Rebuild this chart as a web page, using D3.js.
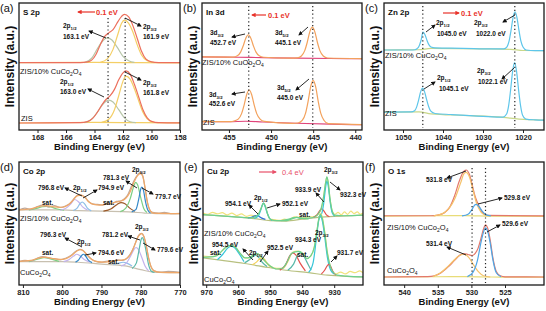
<!DOCTYPE html>
<html><head><meta charset="utf-8">
<script src="https://cdn.jsdelivr.net/npm/d3@7"></script>
<style>
body{margin:0;background:#fff}
svg{display:block;font-family:"Liberation Sans",Arial,sans-serif}
</style></head>
<body><svg id="fig" width="546" height="311"></svg>
<script>
// ─── (a) S 2p ─────────────────────────────────────────────
const S2P_TICKS = [168, 166, 164, 162, 160, 158];
const S2P_TOP_BASE = [[169.3,53],[164,53.2],[161,53],[158,52.8]];
const S2P_TOP_ENV = [[169.3,53],[165,53.1],[164.5,53.6],[164.2,55],[163.9,59.5],[163.6,67],[163.3,73.5],[163.0,76.5],[162.7,79],[162.4,84.5],[162.1,89.5],[161.9,91],[161.6,89],[161.3,82],[161.0,72],[160.7,62],[160.4,56],[160.0,53.6],[159.5,53.1],[158,53]];
const S2P_TOP_P12 = [[164.7,53.1],[164.2,56.5],[163.8,64],[163.4,70.5],[163.1,72.5],[162.8,71],[162.4,65],[162.0,58],[161.6,54.5],[161.2,53.2]];
const S2P_TOP_P32 = [[163.6,53.2],[163.1,56],[162.7,63.5],[162.4,74],[162.1,84],[161.9,86.5],[161.6,84],[161.3,77],[161.0,67],[160.7,59],[160.3,54.5],[159.8,53.1]];
const S2P_BOT_BASE = [[169.3,5.5],[164,6],[161,5.8],[158,5.6]];
const S2P_BOT_ENV = [[169.3,5.5],[165,5.8],[164.5,6.6],[164.1,9.5],[163.8,14],[163.5,19.5],[163.2,24],[162.9,27],[162.6,32],[162.3,39.5],[162.0,45],[161.8,46.5],[161.5,44],[161.2,36],[160.9,26],[160.6,16],[160.3,9.5],[160.0,6.8],[159.5,5.8],[158,5.6]];
const S2P_BOT_P12 = [[164.7,5.8],[164.2,8.5],[163.8,14],[163.4,20.5],[163.0,23.5],[162.7,22],[162.3,16],[161.9,9.5],[161.5,6.5],[161.1,5.8]];
const S2P_BOT_P32 = [[163.5,6],[163.0,8.5],[162.6,16],[162.3,27],[162.0,38.5],[161.8,42.5],[161.5,40],[161.2,32.5],[160.9,23],[160.6,14],[160.3,8.8],[159.9,6.3],[159.5,5.7]];

// ─── (b) In 3d ────────────────────────────────────────────
const IN3D_TICKS = [455, 450, 445, 440];
const IN3D_TOP_BASE = [[458.2,57.6],[454,57.3],[451,57],[447,56.6],[443,56.3],[439.2,56.1]];
const IN3D_TOP_ENV = [[458.2,57.6],[454.5,57.4],[454.0,58.4],[453.6,61.5],[453.3,66.4],[453.0,72.3],[452.7,75],[452.4,72.3],[452.1,66.4],[451.8,61.5],[451.4,58.4],[450.9,57.3],[447.5,56.6],[446.9,56.8],[446.4,58.3],[446.0,62.5],[445.7,69.1],[445.4,77.3],[445.1,81],[444.8,77.3],[444.5,69.1],[444.2,62.5],[443.8,58.3],[443.3,56.7],[439.2,56.2]];
const IN3D_BOT_BASE = [[458.2,6.6],[455,6.5],[453,6.9],[451,6.3],[447,5.3],[443,4.6],[439.2,4.2]];
const IN3D_BOT_ENV = [[458.2,6.6],[454.8,6.6],[454.4,7.1],[453.9,8.6],[453.5,12.9],[453.2,19.6],[452.9,27.8],[452.6,31.5],[452.3,27.8],[452.0,19.6],[451.7,12.9],[451.3,8.6],[450.8,6.8],[447.5,5.2],[446.8,5.5],[446.3,7.5],[445.9,13.3],[445.6,22.6],[445.3,33.9],[445.0,39],[444.7,33.9],[444.4,22.6],[444.1,13.3],[443.7,7.5],[443.2,5],[439.2,4.2]];

// ─── (c) Zn 2p ────────────────────────────────────────────
const ZN_TICKS = [1050, 1040, 1030, 1020];
const ZN_TOP_BASE = [[1054.75,63],[1046,63.2],[1043,64.2],[1030,63.9],[1023,63.5],[1020,62.6],[1014.75,62.5]];
const ZN_TOP_ENV = [[1054.75,63],[1048,63],[1047,63.2],[1046.5,64],[1046,66],[1045.5,70.5],[1045.0,77],[1044.5,75],[1044,70.5],[1043.5,67],[1043,65.3],[1042,64.6],[1035,64.3],[1028,63.8],[1024.8,63.9],[1024,65.5],[1023.5,69.7],[1023,78.3],[1022.5,88.3],[1022,93],[1021.5,88.3],[1021,78.3],[1020.5,69.7],[1020,65.3],[1019.2,63],[1017,62.5],[1014.75,62.5]];
const ZN_BOT_BASE = [[1054.75,14],[1046,14.3],[1043,12.7],[1035,11.5],[1025,10],[1021,8.6],[1014.75,7.8]];
const ZN_BOT_ENV = [[1054.75,14],[1048,14.2],[1047.1,15.1],[1046.6,18],[1046.1,23.5],[1045.6,30],[1045.1,33],[1044.6,30],[1044.1,24],[1043.6,18.5],[1043.1,15],[1042,13],[1038,12.2],[1030,10.8],[1025,10.2],[1024.1,12.6],[1023.6,19],[1023.1,31.5],[1022.6,46],[1022.1,53],[1021.6,46],[1021.1,31.5],[1020.6,19],[1020.1,11.6],[1019.3,8.6],[1017,8],[1014.75,7.8]];

// ─── (d) Co 2p ────────────────────────────────────────────
const CO_TICKS = [810, 800, 790, 780, 770];
const CO_TOP_BASE = [[811,61],[800,61],[796,60.5],[790,60],[783,59.5],[779,58.5],[776,58],[770,58]];
const CO_TOP_DATA = [[811,61],[809.5,62.5],[808,61.5],[806.5,63.5],[805,65],[803.5,63.5],[802,64.5],[800.5,63],[799,64.5],[797.8,67],[796.8,71],[795.8,73.5],[795,73],[794.2,71.5],[793.3,68],[792.3,66],[791,65.5],[789.8,65],[788.5,66.5],[787.3,66],[786.2,68],[785,68.5],[784,70.5],[783.2,74],[782.4,80],[781.6,85.5],[780.8,89.5],[780.1,91.5],[779.5,89],[778.9,79],[778.3,67],[777.7,61],[777,59],[775.5,58.5],[774,59],[772,58],[770,58.3]];
const CO_TOP_FIT = [[811,61],[808,62],[805.5,64],[804,64.5],[802,63.5],[800,63.2],[798.5,65],[797.2,69],[796.2,72.5],[795.2,73],[794.2,71],[793.2,67.5],[792,65.5],[790.5,65],[788.5,65.8],[786.5,67.3],[785,68.3],[783.8,70.5],[782.8,75],[781.8,83],[780.8,89],[780.1,90.5],[779.5,88.5],[778.9,79],[778.3,67.5],[777.6,60.5],[776.8,58.5],[770,58]];
const CO_TOP_SAT1 = [[808.5,61],[806.5,62.3],[805,63.6],[804,64],[803,63.5],[801.5,62],[799.5,60.8]];
const CO_TOP_P12A = [[800.5,60.8],[799,62.5],[797.8,66],[796.8,69.5],[795.8,67.5],[794.8,63.5],[793.5,60.8]];
const CO_TOP_P12B = [[797.2,60.6],[796.2,62.5],[795.5,66],[794.9,67.5],[794.3,66],[793.6,62.5],[792.6,60.3]];
const CO_TOP_SAT2 = [[789.5,60],[787.5,62],[786,65.5],[785,67],[784,66],[782.8,62.5],[781.5,60]];
const CO_TOP_P32A = [[785.2,59.7],[783.8,62.5],[782.7,70],[781.8,80],[781.3,83.5],[780.8,81.5],[780,71],[779.2,62],[778.4,59]];
const CO_TOP_P32B = [[782.3,59.5],[781.2,61.5],[780.5,70],[780,78],[779.7,79.5],[779.3,77],[778.8,68],[778.2,61],[777.5,58.6]];
const CO_BOT_BASE = [[811,19],[800,19],[796,18.5],[790,17],[784,15.5],[780,12.5],[777,10.5],[770,10]];
const CO_BOT_DATA = [[811,19],[809.5,20],[808,19.5],[806.5,21.5],[805,23],[803.5,22],[802,21.5],[800.5,20.5],[799,22],[797.8,24],[796.5,27.5],[795.5,29],[794.7,28],[793.8,25],[792.8,21.5],[791.5,19.2],[790,18.5],[788.5,19.5],[787.2,19],[786,20.5],[784.8,20],[783.8,21],[782.8,24.5],[782,29],[781.2,35.5],[780.5,40.5],[779.8,42],[779.2,39.5],[778.6,32],[778,22],[777.4,15],[776.6,11.5],[775,10.5],[773,11],[770,10.3]];
const CO_BOT_FIT = [[811,19.2],[808,20],[805.5,22.3],[804.3,22.6],[802.5,21.5],[800.5,20.8],[799,21.5],[797.6,24],[796.3,27.5],[795.3,28.8],[794.5,27.5],[793.5,24],[792.5,21],[791,19],[789.5,18.6],[787.5,19.3],[786,20],[784.8,20.2],[783.6,21.5],[782.6,25],[781.6,32],[780.6,39.5],[779.8,41.8],[779.2,39.5],[778.6,32],[778,22],[777.4,15],[776.6,11.5],[775,10.3],[770,10]];
const CO_BOT_SAT1 = [[808.5,19],[806.3,21],[804.6,22.3],[803,21.3],[800.8,19.2]];
const CO_BOT_P12A = [[799.6,19],[798.2,20.8],[797.1,23.5],[796.3,25],[795.4,23.5],[794.4,20.8],[793,18.6]];
const CO_BOT_P12B = [[796.6,18.6],[795.8,20.5],[795.1,23.8],[794.6,25],[794.1,23.8],[793.4,20.5],[792.4,18.2]];
const CO_BOT_SAT2 = [[787,16.5],[785.6,17.8],[784.5,18.5],[783.4,17.6],[782.2,15.5]];
const CO_BOT_P32A = [[785,15.5],[783.6,18],[782.6,23.5],[781.7,29],[781.2,30.5],[780.6,29],[779.8,23],[778.9,15.5],[778,11.5]];
const CO_BOT_P32B = [[782.2,13.5],[781.1,18],[780.4,29],[779.9,37],[779.6,38.5],[779.2,36],[778.6,27],[778,16.5],[777.3,11.2],[776.5,10.3]];

// ─── (e) Cu 2p ────────────────────────────────────────────
const CU_TICKS = [970, 960, 950, 940, 930];
const CU_TOP_BASE = [[971,57],[960,55.2],[955,54],[950,52.3],[945,52],[940,53.5],[935,55],[928,56],[921,56.8]];
const CU_TOP_DATA = [[971,58.5],[969.5,57.5],[968,59],[966.5,57.8],[965,58.8],[963.5,57],[962,58.5],[960.5,56.5],[959,57.8],[957.5,55.8],[956,56.8],[954.5,56],[953.5,58.5],[952.8,63],[952.1,66.5],[951.5,64],[950.8,57.5],[950,53.5],[948.5,53],[947,52.5],[945.5,53.5],[944,53],[942.5,55.5],[941,55],[939.5,54.5],[938,55.5],[936.5,55.5],[935,57.5],[934,62],[933.3,72],[932.7,83],[932.3,87.5],[931.9,84],[931.3,70],[930.6,60],[929.8,57.5],[928.8,59],[927.8,57],[926.8,59.5],[925.8,57.5],[924.8,60],[923.8,58],[922.8,59.5],[921.8,57.5],[921,58.5]];
const CU_TOP_ENV = [[971,57.2],[962,55.6],[956,54.6],[954.6,55.6],[953.6,58],[952.8,62.5],[952.1,66.5],[951.5,64],[950.8,57.5],[950,53.5],[948,52.3],[945,52.4],[943,54],[941.8,55],[940.5,54.2],[938,54.3],[936,55.5],[934.8,58.5],[934,63],[933.3,72],[932.7,83],[932.3,88],[931.9,84],[931.3,70],[930.6,60],[929.8,56.8],[927,56.3],[921,56.8]];
const CU_TOP_P32 = [[935,55],[934,57.5],[933.3,66],[932.7,79],[932.3,84.5],[931.9,81],[931.3,68],[930.6,58.5],[929.8,56]];
const CU_TOP_P32R = [[936.5,55],[935.3,57.2],[934.5,60.5],[933.9,62],[933.3,60.5],[932.5,57.3],[931.5,55.5]];
const CU_TOP_P12 = [[955,54.2],[953.8,55.8],[953,60.5],[952.4,65.5],[952.1,66.5],[951.7,64.5],[951,59],[950.2,54.3],[949.4,52.5]];
const CU_TOP_P12B = [[957,54.6],[955.6,55.3],[954.5,56.4],[953.8,56.2],[952.8,54.6],[951.5,53.3]];
const CU_TOP_SAT = [[946.5,52.3],[944.5,53.3],[942.5,54.8],[941.5,55],[940,54.2],[938,53.8]];
const CU_BOT_BASE = [[971,22],[965,20],[958,17.5],[950,14],[945,12],[938,10],[932,8],[926,7],[921,6.5]];
const CU_BOT_DATA = [[971,23.5],[968,23],[966,25.5],[964,30],[962.5,32],[961,31],[959.5,26],[958,22],[956.5,22],[955,25],[954,25.5],[953,23],[951.5,19],[950,15.5],[948,13.5],[946,13.5],[944.5,19],[943,26.5],[941.5,27.5],[940,26],[938.5,21.5],[937.5,23],[936.3,30],[935.5,42],[934.8,54],[934.3,58],[933.7,55],[933,44],[932.2,28],[931.5,18],[930.5,11],[929.5,9],[928,10.5],[926.5,9],[925,11],[923.5,10],[922,11.5],[921,10]];
const CU_BOT_ENV = [[971,22.5],[967,23.5],[965.5,26.5],[964,30.5],[962.3,32.3],[960.8,30.5],[959.3,25.5],[957.8,22],[956.4,22.5],[955,25],[954,25.6],[952.9,23.2],[951.5,19],[950,15.5],[948,13],[946.2,13.6],[944.8,18.5],[943.4,25.5],[942.2,27],[941,27.3],[939.8,25.5],[938.6,21.5],[937.4,23.5],[936.2,31],[935.4,44],[934.8,54],[934.3,57.5],[933.7,54],[933,43],[932.2,27],[931.5,18],[930.5,11],[929,8],[926,7.2],[921,6.6]];
const CU_BOT_SAT962 = [[966.5,20.5],[964.8,25],[963.3,30],[962.2,31.5],[961,30],[959.6,25],[958.2,19]];
const CU_BOT_P954 = [[958,18],[956.5,20.5],[955.2,23.5],[954.5,24.2],[953.8,23],[952.5,18.5],[951,15]];
const CU_BOT_P952 = [[955.6,16.5],[954.2,18.8],[953.1,21.8],[952.5,22.3],[951.8,21],[950.7,16.5],[949.5,14]];
const CU_BOT_SAT943 = [[947,12],[945.2,16.5],[943.8,24],[943,26],[942,24.5],[940.7,18],[939,11.5]];
const CU_BOT_SAT940 = [[944.5,12],[942.7,17],[941.4,24.5],[940.6,26.3],[939.8,25],[938.6,19],[937.2,12]];
const CU_BOT_P934 = [[938,10.2],[936.6,18],[935.6,37],[934.9,51.5],[934.3,56],[933.7,52],[933,40],[932.1,22],[931.1,12],[930,9]];
const CU_BOT_P931 = [[934,9],[933,12],[932.2,15.5],[931.7,16.8],[931.2,15.5],[930.4,11],[929.5,8]];

// ─── (f) O 1s (positions as drawn in the picture) ─────────
const O_TICKS = [540, 535, 530, 525];
const O_TOP_BASE = [[543,56],[535,56.3],[531,56.4],[527,56],[519,55.8]];
const O_TOP_DATA = [[543,56.3],[536,56.3],[535,56.8],[534,58.8],[533.2,63.5],[532.5,72.5],[531.8,84.5],[531.2,92],[530.8,93.5],[530.3,90],[529.9,82],[529.5,73],[529.1,67],[528.7,62],[528.2,58],[527.6,56.6],[519,56.2]];
const O_TOP_P1 = [[535.6,56.2],[534.3,58],[533.3,62.5],[532.4,71],[531.6,83],[531.1,90.5],[530.8,91.5],[530.3,88],[529.8,78],[529.2,66],[528.6,59.5],[527.9,56.8],[527.2,56.2]];
const O_TOP_P2 = [[531.4,56.2],[530.5,57.5],[529.9,61.5],[529.5,65],[529.3,65.5],[528.9,64],[528.4,60],[527.8,57],[527.1,56.2]];
const O_BOT_BASE = [[543,6.5],[535,6.7],[531,6.8],[527,6.5],[519,6.4]];
const O_BOT_DATA = [[543,6.5],[536.5,6.8],[535.5,7.5],[534.5,10],[533.5,14.5],[532.5,20],[531.7,24.3],[531.1,25.5],[530.5,24.8],[529.9,24],[529.4,26],[529,30],[528.6,37.5],[528.2,45.5],[527.9,49],[527.6,46.5],[527.2,36.5],[526.8,22],[526.3,11],[525.7,7.5],[525,6.6],[519,6.5]];
const O_BOT_P1 = [[535.7,6.8],[534.7,9.5],[533.7,14],[532.7,19.5],[531.9,23.5],[531.1,25],[530.4,22.5],[529.7,16.5],[529,11],[528.2,7.5],[527.2,6.5]];
const O_BOT_P2 = [[530.6,6.8],[529.8,10],[529.1,20],[528.6,34],[528.2,43],[527.9,46.5],[527.6,44],[527.2,34],[526.8,20.5],[526.3,10],[525.6,6.8]];

// ─── panel layout ─────────────────────────────────────────
const C = {
  red: '#e8322a', salmon: '#ec6f5c', yellow: '#f4cf66', sage: '#b7c6a8',
  orange: '#f3a25d', pink: '#e0457a', cyan: '#5ec6ea', lime: '#c9d88a',
  tan: '#c0a898', fit: '#f0a868', green: '#7dcf83', blue: '#3589c8', lav: '#c3b3ec',
  brown: '#9c5a2a', sky: '#8fbfe8', gray: '#c8c0b0',
  cuYel: '#f1e27a', cuEnv: '#6ed08e', cuCyan: '#36c5d9', cuRed: '#e4504d', cuBlue: '#2e6fd2',
  olive: '#b8c080', teal: '#58b8a8', gold: '#f5d15a',
  oOr: '#f5c26a', oRed: '#e3786a', oBlue: '#4ea6e6', oBase: '#e8dc78'
};

const panels = [
  { letter: '(a)', title: 'S 2p', box: {x: 19, y: 3, w: 161, h: 127}, domain: [169.3, 158], ticks: S2P_TICKS,
    curves: [[S2P_TOP_BASE, C.yellow], [S2P_TOP_P12, C.sage], [S2P_TOP_P32, C.yellow], [S2P_TOP_ENV, C.salmon],
             [S2P_BOT_BASE, C.yellow], [S2P_BOT_P12, C.sage], [S2P_BOT_P32, C.yellow], [S2P_BOT_ENV, C.salmon]],
    dotted: [163.05, 161.85], dotY: [18, 128],
    samples: [['ZIS/10% CuCo_{2}O_{4}', 20, 71], ['ZIS', 21, 118]],
    notes: [['2p_{1/2}', 63, 26], ['163.1 eV', 63, 37], ['2p_{3/2}', 143, 27], ['161.9 eV', 143, 37],
            ['2p_{1/2}', 60, 82], ['163.0 eV', 60, 92], ['2p_{3/2}', 143, 83], ['161.8 eV', 143, 93]],
    arrows: [[106, 38, 89, 31], [125, 18, 141, 26], [104, 97, 88, 89], [125, 72, 141, 80]],
    shift: {x1: 95, x2: 78, y: 12, tx: 96, text: '0.1 eV', color: C.red, bold: true} },
  { letter: '(b)', title: 'In 3d', box: {x: 202, y: 3, w: 160, h: 127}, domain: [458.2, 439.2], ticks: IN3D_TICKS,
    curves: [[IN3D_TOP_BASE, C.pink], [IN3D_TOP_ENV, C.orange], [IN3D_BOT_BASE, C.pink], [IN3D_BOT_ENV, C.orange]],
    dotted: [452.65, 445.05], dotY: [6, 128],
    samples: [['ZIS/10% CuOo_{2}O_{4}', 202, 62], ['ZIS', 203, 122]],
    notes: [['3d_{3/2}', 210, 33], ['452.7 eV', 210, 43], ['3d_{5/2}', 275, 33], ['445.1 eV', 275, 43],
            ['3d_{3/2}', 209, 95], ['452.6 eV', 209, 104], ['3d_{5/2}', 277, 88], ['445.0 eV', 277, 98]],
    arrows: [[245, 34, 232, 37], [308, 27, 299, 35], [245, 92, 232, 94], [309, 79, 296, 90]],
    shift: {x1: 266, x2: 252, y: 15, tx: 268, text: '0.1 eV', color: C.red, bold: true} },
  { letter: '(c)', title: 'Zn 2p', box: {x: 384, y: 3, w: 160, h: 127}, domain: [1054.75, 1014.75], ticks: ZN_TICKS,
    curves: [[ZN_TOP_BASE, C.lime], [ZN_TOP_ENV, C.cyan], [ZN_BOT_BASE, C.lime], [ZN_BOT_ENV, C.cyan]],
    dotted: [1045.05, 1022.05], dotY: [6, 128],
    samples: [['ZIS/10% CuCo_{2}O_{4}', 385, 55], ['ZIS', 385, 113]],
    notes: [['2p_{1/2}', 436, 23], ['1045.0 eV', 437, 34], ['2p_{3/2}', 474, 23], ['1022.0 eV', 476, 34],
            ['2p_{1/2}', 437, 78], ['1045.1 eV', 439, 89], ['2p_{3/2}', 477, 71], ['1022.1 eV', 478, 82]],
    arrows: [[426, 32, 435, 25], [515, 15, 503, 22], [424, 89, 435, 82], [514, 68, 502, 79]],
    shift: {x1: 443, x2: 459, y: 13, tx: 461, text: '0.1 eV', color: C.red, bold: true} },
  { letter: '(d)', title: 'Co 2p', box: {x: 19, y: 162, w: 161, h: 123}, domain: [811, 770], ticks: CO_TICKS,
    curves: [[CO_TOP_BASE, C.gray], [CO_TOP_SAT1, C.green], [CO_TOP_P12A, C.lav], [CO_TOP_P12B, C.sky], [CO_TOP_SAT2, C.brown],
             [CO_TOP_P32A, C.green], [CO_TOP_P32B, C.blue], [CO_TOP_DATA, C.tan], [CO_TOP_FIT, C.fit],
             [CO_BOT_BASE, C.gray], [CO_BOT_SAT1, C.green], [CO_BOT_P12A, C.lav], [CO_BOT_P12B, C.blue], [CO_BOT_SAT2, C.sky],
             [CO_BOT_P32A, C.lav], [CO_BOT_P32B, C.teal], [CO_BOT_DATA, C.tan], [CO_BOT_FIT, C.fit]],
    dotted: [], dotY: [0, 0],
    samples: [['ZIS/10% CuCo_{2}O_{4}', 20, 218], ['CuCo_{2}O_{4}', 20, 272]],
    notes: [['796.8 eV', 38, 188], ['2p_{1/2}', 73, 188], ['794.9 eV', 98, 188], ['2p_{3/2}', 132, 170],
            ['781.3 eV', 103, 178], ['779.7 eV', 155, 197], ['sat.', 42, 203], ['sat.', 103, 203],
            ['796.3 eV', 40, 235], ['2p_{1/2}', 77, 242], ['794.6 eV', 98, 253], ['781.2 eV', 102, 235],
            ['2p_{3/2}', 135, 227], ['779.6 eV', 157, 250], ['sat.', 42, 253], ['sat.', 108, 262]],
    arrows: [[82, 196, 65, 188], [83, 198, 97, 190], [137, 188, 126, 181], [142, 188, 153, 194],
             [82, 247, 65, 238], [85, 255, 96, 253], [140, 240, 128, 236], [143, 243, 155, 250]],
    shift: null },
  { letter: '(e)', title: 'Cu 2p', box: {x: 203, y: 162, w: 160, h: 123}, domain: [971, 921], ticks: CU_TICKS,
    curves: [[CU_TOP_BASE, C.olive], [CU_TOP_DATA, C.cuYel], [CU_TOP_SAT, C.cuEnv], [CU_TOP_P12B, C.cuBlue], [CU_TOP_P12, C.cuCyan],
             [CU_TOP_P32R, C.cuRed], [CU_TOP_P32, C.cuCyan], [CU_TOP_ENV, C.cuEnv],
             [CU_BOT_BASE, C.olive], [CU_BOT_DATA, C.cuYel], [CU_BOT_SAT962, C.cuCyan], [CU_BOT_P954, C.teal], [CU_BOT_P952, C.gold],
             [CU_BOT_SAT943, C.cuRed], [CU_BOT_SAT940, C.teal], [CU_BOT_P934, C.cuCyan], [CU_BOT_P931, C.cuRed], [CU_BOT_ENV, C.cuEnv]],
    dotted: [], dotY: [0, 0],
    samples: [['ZIS/10% CuCo_{2}O_{4}', 204, 233], ['CuCo_{2}O_{4}', 204, 279]],
    notes: [['2p_{1/2}', 254, 198], ['954.1 eV', 225, 204], ['952.1 eV', 282, 204], ['2p_{3/2}', 324, 170],
            ['933.9 eV', 295, 190], ['932.3 eV', 340, 195], ['sat.', 299, 215],
            ['954.5 eV', 212, 245], ['sat.', 210, 253], ['2p_{1/2}', 249, 253], ['952.5 eV', 267, 248],
            ['sat.', 297, 255], ['934.3 eV', 295, 240], ['2p_{3/2}', 315, 233], ['931.7 eV', 337, 253]],
    arrows: [[258, 214, 249, 205], [267, 208, 280, 204], [324, 202, 316, 193], [330, 182, 340, 190],
             [253, 260, 243, 249], [260, 262, 268, 251], [331, 262, 337, 256]],
    shift: {x1: 259, x2: 276, y: 172, tx: 282, text: '0.4 eV', color: '#e8506a', bold: false} },
  { letter: '(f)', title: 'O 1s', box: {x: 384, y: 162, w: 160, h: 123}, domain: [543, 519.2], ticks: O_TICKS,
    curves: [[O_TOP_BASE, C.oBase], [O_TOP_DATA, C.oRed], [O_TOP_P1, C.oOr], [O_TOP_P2, C.oBlue],
             [O_BOT_BASE, C.oBase], [O_BOT_DATA, C.oRed], [O_BOT_P1, C.oOr], [O_BOT_P2, C.oBlue]],
    dotted: [529.9, 527.9], dotY: [168, 283],
    samples: [['ZIS/10% CuCo_{2}O_{4}', 387, 227], ['CuCo_{2}O_{4}', 387, 270]],
    notes: [['531.8 eV', 426, 180], ['529.8 eV', 504, 198], ['529.6 eV', 502, 224], ['531.4 eV', 426, 244]],
    arrows: [[466, 171, 447, 178], [478, 204, 502, 198], [487, 232, 500, 225], [466, 255, 447, 247]],
    shift: null }
];

const svg = d3.select('#fig');
svg.append('rect').attr('width', 546).attr('height', 311).attr('fill', '#fff');

const defs = svg.append('defs');
function marker(id, color) {
  defs.append('marker').attr('id', id).attr('viewBox', '0 0 10 10')
    .attr('refX', 8).attr('refY', 5).attr('markerWidth', 4.5).attr('markerHeight', 4.5)
    .attr('markerUnits', 'userSpaceOnUse').attr('orient', 'auto')
    .append('path').attr('d', 'M0,0L10,5L0,10z').attr('fill', color);
}
marker('ahk', '#111');
marker('ahr', C.red);
marker('ahp', '#e8506a');

// text with _{sub} markup; y is the visual middle of the line
function rich(g, str, x, y, size, weight, color) {
  const t = g.append('text').attr('x', x).attr('y', y + size * 0.35)
    .attr('font-size', size).attr('font-weight', weight).attr('fill', color || '#111');
  let sub = false;
  str.split(/(_\{[^}]*\})/).filter(s => s).forEach(part => {
    if (part.startsWith('_{')) {
      t.append('tspan').attr('font-size', size * 0.66).attr('dy', size * 0.3).text(part.slice(2, -1));
      sub = true;
    } else {
      const s = t.append('tspan').text(part);
      if (sub) { s.attr('dy', -size * 0.3); sub = false; }
    }
  });
  return t;
}

panels.forEach((p, i) => {
  const {x: bx, y: by, w, h} = p.box;
  const g = svg.append('g').attr('transform', `translate(${bx},${by})`);
  const xScale = d3.scaleLinear().domain(p.domain).range([0, w]);
  const yScale = d3.scaleLinear().domain([0, 100]).range([h, 0]);

  const clipId = 'clip' + i;
  defs.append('clipPath').attr('id', clipId).append('rect').attr('width', w).attr('height', h);

  const line = d3.line().x(d => xScale(d[0])).y(d => yScale(d[1])).curve(d3.curveMonotoneX);
  const cg = g.append('g').attr('clip-path', `url(#${clipId})`);
  p.curves.forEach(([data, color]) => {
    cg.append('path').datum(data).attr('d', line)
      .attr('fill', 'none').attr('stroke', color).attr('stroke-width', 1.2).attr('stroke-linejoin', 'round');
  });

  // dotted guide lines
  p.dotted.forEach(be => {
    g.append('line').attr('x1', xScale(be)).attr('x2', xScale(be))
      .attr('y1', p.dotY[0] - by).attr('y2', p.dotY[1] - by)
      .attr('stroke', '#222').attr('stroke-width', 1.2).attr('stroke-dasharray', '1.2,2.6');
  });

  // x axis
  g.append('g').attr('transform', `translate(0,${h})`)
    .call(d3.axisBottom(xScale).tickValues(p.ticks).tickSize(3).tickSizeOuter(0).tickPadding(1.5).tickFormat(d3.format('d')))
    .call(a => a.select('.domain').remove())
    .call(a => a.selectAll('line').attr('stroke', '#222').attr('stroke-width', 1))
    .call(a => a.selectAll('text').attr('font-size', 7.5).attr('font-weight', 'bold').attr('fill', '#222')
      .attr('font-family', '"Liberation Sans", Arial, sans-serif'));

  // frame
  g.append('rect').attr('width', w).attr('height', h)
    .attr('fill', 'none').attr('stroke', '#1a1a1a').attr('stroke-width', 1.3);

  // axis titles
  g.append('text').attr('x', w / 2).attr('y', h + 20).attr('text-anchor', 'middle')
    .attr('font-size', 9.5).attr('font-weight', 'bold').attr('fill', '#111').text('Binding Energy (eV)');
  g.append('text').attr('transform', `translate(-9.5,${h / 2}) rotate(-90)`)
    .attr('text-anchor', 'middle').attr('dominant-baseline', 'central')
    .attr('font-size', 12).attr('font-weight', 'bold').attr('fill', '#111').text('Intensity (a.u.)');

  // panel letter & title
  svg.append('text').attr('x', bx - 19).attr('y', by + 9).attr('font-size', 11).attr('fill', '#111').text(p.letter);
  g.append('text').attr('x', 4).attr('y', 12).attr('font-size', 8).attr('font-weight', 'bold').attr('fill', '#111').text(p.title);

  // sample names, peak notes, arrows (page coordinates)
  const ag = svg.append('g');
  p.samples.forEach(([t, x, y]) => rich(ag, t, x, y, 7.5, 'normal', '#111'));
  p.notes.forEach(([t, x, y]) => rich(ag, t, x, y, 6.5, 'bold', '#111'));
  p.arrows.forEach(([x1, y1, x2, y2]) => {
    ag.append('line').attr('x1', x1).attr('y1', y1).attr('x2', x2).attr('y2', y2)
      .attr('stroke', '#111').attr('stroke-width', 0.9).attr('marker-end', 'url(#ahk)');
  });
  if (p.shift) {
    const s = p.shift;
    const mk = s.color === C.red ? 'ahr' : 'ahp';
    ag.append('line').attr('x1', s.x1).attr('y1', s.y).attr('x2', s.x2).attr('y2', s.y)
      .attr('stroke', s.color).attr('stroke-width', 1.2).attr('marker-end', `url(#${mk})`);
    rich(ag, s.text, s.tx, s.y, 7.5, s.bold ? 'bold' : 'normal', s.color);
  }
});
</script>
</body></html>
